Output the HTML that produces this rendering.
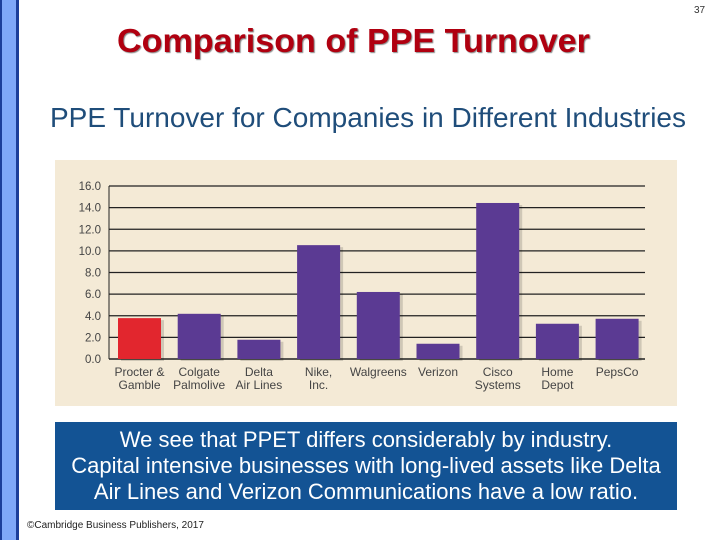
<!DOCTYPE html>
<html><head><meta charset="utf-8"><style>
body{margin:0;width:720px;height:540px;background:#fff;position:relative;overflow:hidden;font-family:"Liberation Sans",sans-serif}
.abs{position:absolute}
</style></head><body>
<div class="abs" style="left:0;top:0;width:14px;height:540px;background:#7fa8f8;border-left:2px solid #1c3f9a;border-right:3px solid #1c3f9a"></div>
<div class="abs" style="left:694px;top:5px;font-size:10px;color:#333">37</div>
<div class="abs" style="left:117px;top:22px;font-size:33px;font-weight:bold;color:#b00010;text-shadow:1px 1px 1px #888;white-space:nowrap;transform:scaleX(1.033);transform-origin:left">Comparison of PPE Turnover</div>
<div class="abs" style="left:50px;top:102px;font-size:28px;color:#1f4d7a;white-space:nowrap">PPE Turnover for Companies in Different Industries</div>
<svg class="abs" style="left:0;top:0" width="720" height="540" id="chart"></svg>
<div class="abs" style="left:55px;top:422px;width:622px;height:88px;background:#135394;color:#fff;font-size:22px;line-height:26px;text-align:center;padding-top:5px;box-sizing:border-box;white-space:nowrap">We see that PPET differs considerably by industry.<br>Capital intensive businesses with long-lived assets like Delta<br>Air Lines and Verizon Communications have a low ratio.</div>
<div class="abs" style="left:27px;top:520px;font-size:10px;color:#222">©Cambridge Business Publishers, 2017</div>
<script>
const categories=[["Procter &","Gamble"],["Colgate","Palmolive"],["Delta","Air Lines"],["Nike,","Inc."],["Walgreens",""],["Verizon",""],["Cisco","Systems"],["Home","Depot"],["PepsCo",""]];
const values=[3.78,4.18,1.78,10.53,6.2,1.41,14.43,3.26,3.72];
const ticks=[0,2,4,6,8,10,12,14,16];
const tickLabels=["0.0","2.0","4.0","6.0","8.0","10.0","12.0","14.0","16.0"];
const svg=document.getElementById('chart');const NS='http://www.w3.org/2000/svg';
function el(t,a,p){const e=document.createElementNS(NS,t);for(const k in a)e.setAttribute(k,a[k]);(p||svg).appendChild(e);return e;}
const y=v=>359-v*(359-186)/16;
const x=i=>118+i*59.7;
const bw=43;
const bg=el('rect',{x:55,y:160,width:622,height:246,fill:'#f4ead6'});


ticks.forEach((t,i)=>{
 const g=el('line',{x1:109,x2:645,y1:y(t),y2:y(t),stroke:'#222','stroke-width':i==0?1.5:1.2});
 
 
 const l=el('text',{x:101,y:y(t)+4,'text-anchor':'end','font-size':11.5,fill:'#444','font-family':'Liberation Sans'});
 l.textContent=tickLabels[i];
 
 
});
el('line',{x1:109,x2:109,y1:y(16),y2:y(0),stroke:'#222','stroke-width':1});
values.forEach((v,i)=>{
 const s=el('rect',{x:x(i)+3,y:y(v)+2,width:bw,height:y(0)-y(v),fill:'#000',opacity:0.15});
 const b=el('rect',{x:x(i),y:y(v),width:bw,height:y(0)-y(v),fill:i==0?'#e2262e':'#5b3a93'});
 
 
 categories[i].forEach((ln,j)=>{
  const t=el('text',{x:x(i)+bw/2,y:376+j*13,'text-anchor':'middle','font-size':12,fill:'#444','font-family':'Liberation Sans'});
  t.textContent=ln;
  
  
 });
});
</script>
</body></html>
